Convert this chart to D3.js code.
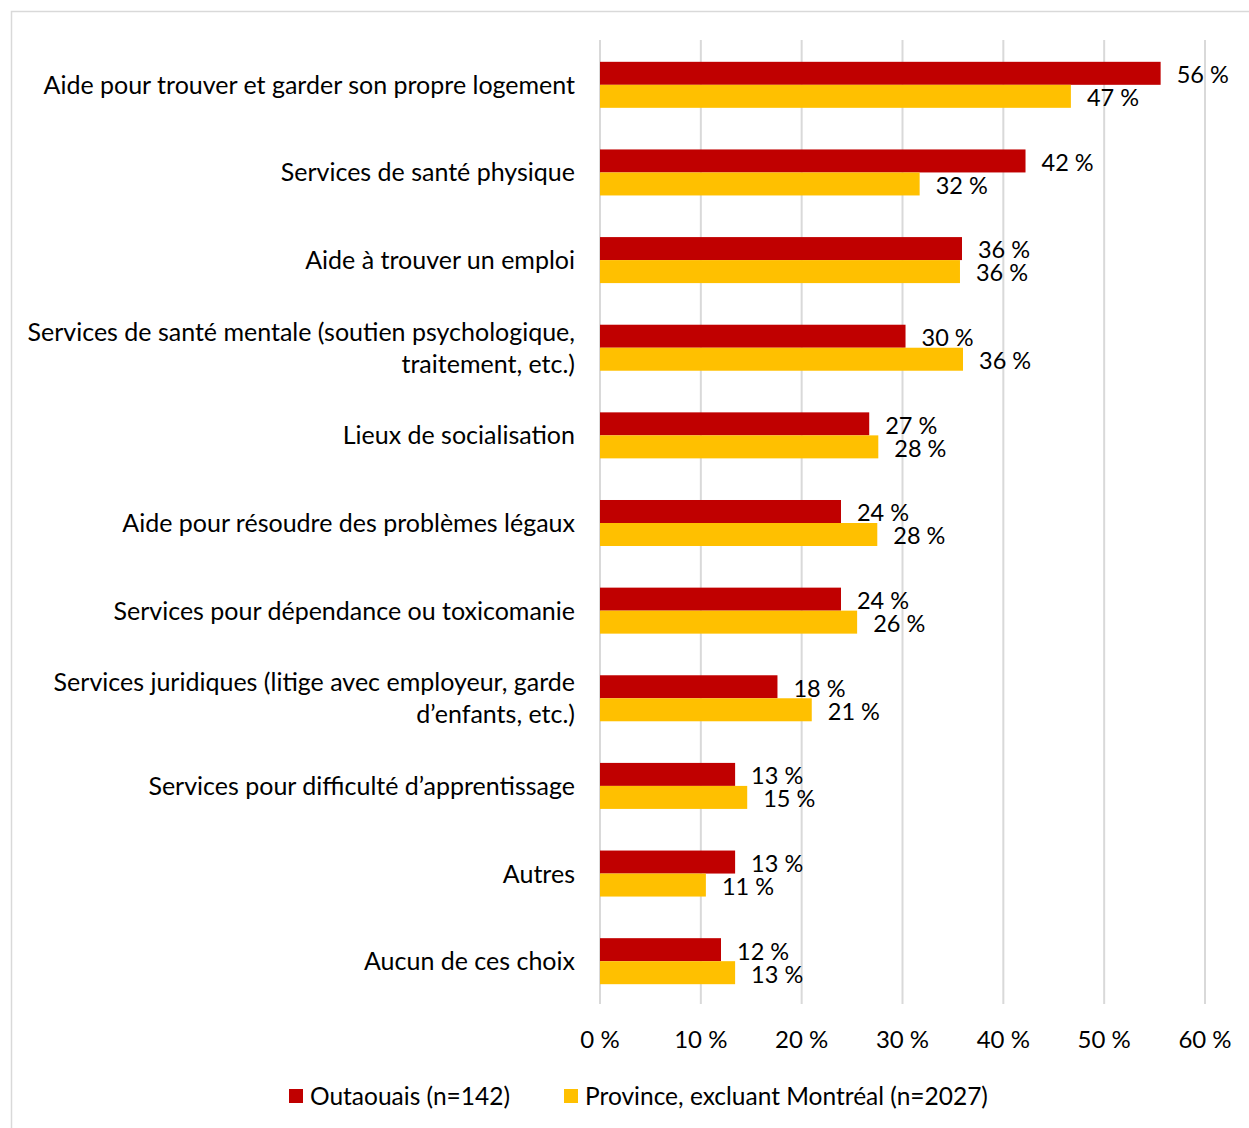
<!DOCTYPE html>
<html>
<head>
<meta charset="utf-8">
<script src="https://cdn.jsdelivr.net/npm/d3@7"></script>
<style>
  body { margin: 0; background: #fff; }
  svg text { font-family: Lato, "Open Sans", sans-serif; fill: #000; }
</style>
</head>
<body>
<div id="chart"></div>
<script>
// categories, top to bottom (multi-line labels split with |)
const categories = [
  "Aide pour trouver et garder son propre logement",
  "Services de santé physique",
  "Aide à trouver un emploi",
  "Services de santé mentale (soutien psychologique,|traitement, etc.)",
  "Lieux de socialisation",
  "Aide pour résoudre des problèmes légaux",
  "Services pour dépendance ou toxicomanie",
  "Services juridiques (litige avec employeur, garde|d’enfants, etc.)",
  "Services pour difficulté d’apprentissage",
  "Autres",
  "Aucun de ces choix"
];
const outaouais = [55.6, 42.2, 35.9, 30.3, 26.7, 23.9, 23.9, 17.6, 13.4, 13.4, 12.0];
const province = [46.7, 31.7, 35.7, 36.0, 27.6, 27.5, 25.5, 21.0, 14.6, 10.5, 13.4];
const seriesNames = ["Outaouais (n=142)", "Province, excluant Montréal (n=2027)"];
const seriesColors = ["#c00000", "#ffc000"];
const xTicks = [0, 10, 20, 30, 40, 50, 60];

const width = 1249, height = 1128;
const plot = { left: 600, right: 1205, top: 40, bottom: 1004 };

const rows = categories.map((c, i) => ({ cat: c, values: [outaouais[i], province[i]] }));

const svg = d3.select("#chart").append("svg")
  .attr("width", width).attr("height", height);

// outer frame
svg.append("rect")
  .attr("x", 11.5).attr("y", 11.5)
  .attr("width", width + 10).attr("height", height + 10)
  .attr("fill", "none").attr("stroke", "#d9d9d9").attr("stroke-width", 1.5);

const x = d3.scaleLinear().domain([0, 60]).range([plot.left, plot.right]);
const y = d3.scaleBand().domain(categories).range([plot.top + 1, plot.bottom + 1])
  .paddingInner(0.475).paddingOuter(0.2375);
const ySub = d3.scaleBand().domain([0, 1]).range([0, y.bandwidth()]);

// gridlines
svg.append("g").selectAll("line").data(xTicks).join("line")
  .attr("x1", d => x(d)).attr("x2", d => x(d))
  .attr("y1", plot.top).attr("y2", plot.bottom)
  .attr("stroke", "#d9d9d9").attr("stroke-width", 2);

// axis tick labels
svg.append("g").selectAll("text").data(xTicks).join("text")
  .attr("x", d => x(d)).attr("y", 1048)
  .attr("text-anchor", "middle")
  .style("font-size", "24px")
  .text(d => d + " %");

// bars
const groups = svg.append("g").selectAll("g").data(rows).join("g")
  .attr("transform", d => `translate(0,${y(d.cat)})`);

groups.selectAll("rect").data(d => d.values).join("rect")
  .attr("x", x(0))
  .attr("y", (d, i) => ySub(i))
  .attr("width", d => x(d) - x(0))
  .attr("height", ySub.bandwidth())
  .attr("fill", (d, i) => seriesColors[i]);

groups.selectAll("text.val").data(d => d.values).join("text")
  .attr("class", "val")
  .attr("x", d => x(d) + 16)
  .attr("y", (d, i) => ySub(i) + ySub.bandwidth() / 2)
  .attr("dy", "0.42em")
  .style("font-size", "23.5px")
  .text(d => Math.round(d) + " %");

// category labels
const catText = svg.append("g").selectAll("text").data(rows).join("text")
  .attr("text-anchor", "end")
  .style("font-size", "25px")
  .attr("transform", d => `translate(575,${y(d.cat) + y.bandwidth() / 2})`);

catText.each(function(d) {
  const lines = d.cat.split("|");
  const lh = 32;
  d3.select(this).selectAll("tspan").data(lines).join("tspan")
    .attr("x", 0)
    .attr("y", (l, i) => (i - (lines.length - 1) / 2) * lh)
    .attr("dy", "0.36em")
    .text(l => l);
});

// legend
const legendX = [289, 564];
const legend = svg.append("g").selectAll("g").data(seriesNames).join("g")
  .attr("transform", (d, i) => `translate(${legendX[i]},1096)`);
legend.append("rect")
  .attr("x", 0).attr("y", -7).attr("width", 14).attr("height", 14)
  .attr("fill", (d, i) => seriesColors[i]);
legend.append("text")
  .attr("x", 21).attr("y", 0).attr("dy", "0.36em")
  .style("font-size", "24.5px")
  .text(d => d);
</script>
</body>
</html>
